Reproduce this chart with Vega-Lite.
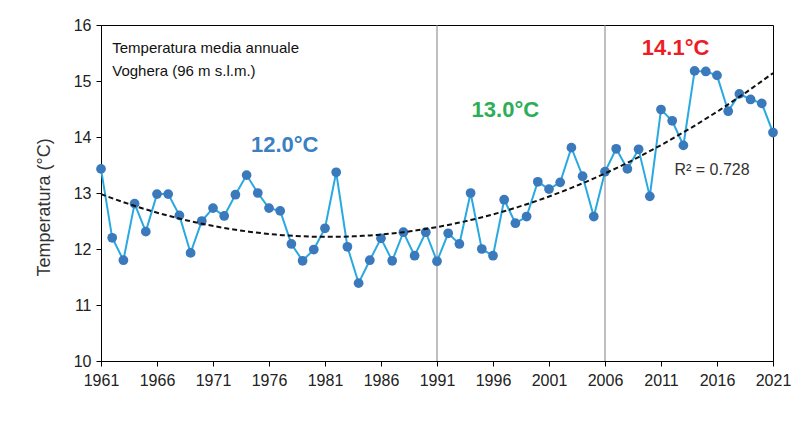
{
  "$schema": "https://vega.github.io/schema/vega-lite/v6.json",
  "autosize": {"type": "none"},
  "width": 672,
  "height": 336,
  "padding": {"left": 101, "top": 25, "right": 22, "bottom": 61},
  "background": "white",
  "config": {
    "font": "Liberation Sans",
    "view": {"stroke": "#000000", "strokeWidth": 1},
    "axis": {"grid": false, "domainColor": "#000000", "tickColor": "#000000", "labelColor": "#222222", "labelFontSize": 16, "labelFont": "Liberation Sans", "titleFont": "Liberation Sans", "titleFontWeight": "normal", "titleColor": "#333333"}
  },
  "datasets": {
    "temp": [
      {"year": 1961, "t": 13.43}, {"year": 1962, "t": 12.2}, {"year": 1963, "t": 11.8}, {"year": 1964, "t": 12.81},
      {"year": 1965, "t": 12.31}, {"year": 1966, "t": 12.98}, {"year": 1967, "t": 12.98}, {"year": 1968, "t": 12.6},
      {"year": 1969, "t": 11.93}, {"year": 1970, "t": 12.5}, {"year": 1971, "t": 12.73}, {"year": 1972, "t": 12.59},
      {"year": 1973, "t": 12.97}, {"year": 1974, "t": 13.32}, {"year": 1975, "t": 13.0}, {"year": 1976, "t": 12.73},
      {"year": 1977, "t": 12.68}, {"year": 1978, "t": 12.09}, {"year": 1979, "t": 11.79}, {"year": 1980, "t": 11.99},
      {"year": 1981, "t": 12.37}, {"year": 1982, "t": 13.37}, {"year": 1983, "t": 12.04}, {"year": 1984, "t": 11.39},
      {"year": 1985, "t": 11.8}, {"year": 1986, "t": 12.19}, {"year": 1987, "t": 11.79}, {"year": 1988, "t": 12.3},
      {"year": 1989, "t": 11.88}, {"year": 1990, "t": 12.3}, {"year": 1991, "t": 11.78}, {"year": 1992, "t": 12.28},
      {"year": 1993, "t": 12.09}, {"year": 1994, "t": 13.0}, {"year": 1995, "t": 12.0}, {"year": 1996, "t": 11.88},
      {"year": 1997, "t": 12.88}, {"year": 1998, "t": 12.46}, {"year": 1999, "t": 12.58}, {"year": 2000, "t": 13.2},
      {"year": 2001, "t": 13.07}, {"year": 2002, "t": 13.19}, {"year": 2003, "t": 13.81}, {"year": 2004, "t": 13.3},
      {"year": 2005, "t": 12.58}, {"year": 2006, "t": 13.38}, {"year": 2007, "t": 13.79}, {"year": 2008, "t": 13.43},
      {"year": 2009, "t": 13.78}, {"year": 2010, "t": 12.94}, {"year": 2011, "t": 14.49}, {"year": 2012, "t": 14.29},
      {"year": 2013, "t": 13.85}, {"year": 2014, "t": 15.18}, {"year": 2015, "t": 15.17}, {"year": 2016, "t": 15.1},
      {"year": 2017, "t": 14.46}, {"year": 2018, "t": 14.77}, {"year": 2019, "t": 14.67}, {"year": 2020, "t": 14.6},
      {"year": 2021, "t": 14.08}
    ],
    "dividers": [{"year": 1991, "lo": 10, "hi": 16}, {"year": 2006, "lo": 10, "hi": 16}],
    "one": [{"k": 1}]
  },
  "layer": [
    {
      "data": {"name": "dividers"},
      "mark": {"type": "rule", "color": "#808080", "strokeWidth": 1},
      "encoding": {
        "x": {
          "field": "year", "type": "quantitative",
          "scale": {"domain": [1961, 2021], "nice": false, "zero": false},
          "axis": {"title": null, "values": [1961, 1966, 1971, 1976, 1981, 1986, 1991, 1996, 2001, 2006, 2011, 2016, 2021], "format": "d", "labelPadding": 6, "tickSize": 5, "labelFlush": false}
        },
        "y": {
          "field": "lo", "type": "quantitative",
          "scale": {"domain": [10, 16], "nice": false, "zero": false},
          "axis": {"title": "Temperatura  (°C)", "titleFontSize": 18, "values": [10, 11, 12, 13, 14, 15, 16], "format": "d", "tickSize": 5, "labelPadding": 5, "titlePadding": 20, "titleY": 182}
        },
        "y2": {"field": "hi"}
      }
    },
    {
      "data": {"name": "temp"},
      "mark": {"type": "line", "color": "#29A9E1", "strokeWidth": 2},
      "encoding": {
        "x": {"field": "year", "type": "quantitative"},
        "y": {"field": "t", "type": "quantitative"}
      }
    },
    {
      "data": {"name": "temp"},
      "mark": {"type": "circle", "color": "#3B79BD", "size": 95, "opacity": 1},
      "encoding": {
        "x": {"field": "year", "type": "quantitative"},
        "y": {"field": "t", "type": "quantitative"}
      }
    },
    {
      "data": {"name": "temp"},
      "transform": [{"regression": "t", "on": "year", "method": "poly", "order": 2}],
      "mark": {"type": "line", "color": "#111111", "strokeWidth": 2, "strokeDash": [5, 3]},
      "encoding": {
        "x": {"field": "year", "type": "quantitative"},
        "y": {"field": "t", "type": "quantitative"}
      }
    },
    {
      "data": {"name": "one"},
      "mark": {"type": "text", "text": "12.0°C", "color": "#3B80C2", "fontSize": 22, "fontWeight": "bold", "align": "center", "baseline": "middle"},
      "encoding": {"x": {"datum": 1977.4}, "y": {"datum": 13.86}}
    },
    {
      "data": {"name": "one"},
      "mark": {"type": "text", "text": "13.0°C", "color": "#2DAE55", "fontSize": 22, "fontWeight": "bold", "align": "center", "baseline": "middle"},
      "encoding": {"x": {"datum": 1997.1}, "y": {"datum": 14.48}}
    },
    {
      "data": {"name": "one"},
      "mark": {"type": "text", "text": "14.1°C", "color": "#EE1C25", "fontSize": 22, "fontWeight": "bold", "align": "center", "baseline": "middle"},
      "encoding": {"x": {"datum": 2012.3}, "y": {"datum": 15.59}}
    },
    {
      "data": {"name": "one"},
      "mark": {"type": "text", "text": "R² = 0.728", "color": "#333333", "fontSize": 16, "align": "left", "baseline": "middle"},
      "encoding": {"x": {"datum": 2012.2}, "y": {"datum": 13.41}}
    },
    {
      "data": {"name": "one"},
      "mark": {"type": "text", "text": ["Temperatura media annuale", "Voghera (96 m s.l.m.)"], "color": "#111111", "fontSize": 15, "align": "left", "baseline": "middle", "lineHeight": 23},
      "encoding": {"x": {"datum": 1962}, "y": {"datum": 15.59}}
    }
  ]
}
